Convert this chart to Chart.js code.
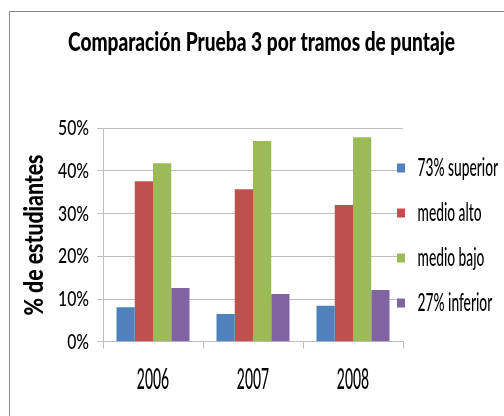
<!DOCTYPE html>
<html>
<head>
<meta charset="utf-8">
<script src="https://cdn.jsdelivr.net/npm/chart.js@4/dist/chart.umd.min.js"></script>
<style>
  html, body { margin: 0; padding: 0; background: #ffffff; }
  #wrap { position: relative; width: 504px; height: 416px; }
</style>
</head>
<body>
<div id="wrap"><canvas id="c"></canvas></div>
<script>
// ---- data ----
const chartTitle = 'Comparación Prueba 3 por tramos de puntaje';
const yAxisTitle = '% de estudiantes';
const years = ['2006', '2007', '2008'];
const seriesNames = ['73% superior', 'medio alto', 'medio bajo', '27% inferior'];
const superior73 = [8.1, 6.5, 8.4];
const medioAlto = [37.6, 35.7, 32.0];
const medioBajo = [41.8, 47.0, 47.9];
const inferior27 = [12.6, 11.2, 12.1];
const yTickValues = [0, 10, 20, 30, 40, 50];

// ---- styles ----
const seriesColors = ['#4F81BD', '#C0504D', '#9BBB59', '#8064A2'];
const FONT = 'Lato';
const gridColor = '#BEBEBE';

// narrow-text rendering (the reference uses a condensed face); keyed by font size
const textStyles = [
  { weight: '900', size: 27, sample: chartTitle, width: 387 },
  { weight: '900', size: 26, sample: yAxisTitle, width: 161 },
  { weight: '500', size: 22, sample: '50%', width: 31 },
  { weight: '500', size: 28, sample: '2006', width: 32.3 },
  { weight: '500', size: 25, sample: 'medio alto', width: 64 }
];
const squash = {};
(function () {
  const m = document.createElement('canvas').getContext('2d');
  textStyles.forEach(s => {
    m.font = s.weight + ' ' + s.size + 'px ' + FONT;
    const w = m.measureText(s.sample).width;
    squash[s.size] = s.width / w;
  });
})();
function fontKey(f) {
  const m = /(\d+(?:\.\d+)?)px/.exec(f);
  return m ? Math.round(parseFloat(m[1])) : 0;
}

const canvas = document.getElementById('c');
const ctx = canvas.getContext('2d');
const origFill = ctx.fillText.bind(ctx);
ctx.fillText = function (t, x, y, mw) {
  const sx = squash[fontKey(this.font)];
  if (!sx) { return mw === undefined ? origFill(t, x, y) : origFill(t, x, y, mw); }
  this.save();
  this.translate(x, y);
  this.scale(sx, 1);
  if (mw === undefined) origFill(t, 0, 0); else origFill(t, 0, 0, mw / sx);
  this.restore();
};

const frame = {
  id: 'frame',
  beforeDraw(chart) {
    const c = chart.ctx;
    c.save();
    c.strokeStyle = '#8A8A8A';
    c.lineWidth = 1;
    c.strokeRect(9.5, 11.5, 700, 700);
    c.restore();
    const lg = chart.legend;
    if (lg) { lg.left = 377; lg.right = 504; lg.top = 135.5; lg.bottom = 416; }
  }
};

const seriesData = [superior73, medioAlto, medioBajo, inferior27];

new Chart(ctx, {
  type: 'bar',
  data: {
    labels: years,
    datasets: seriesNames.map((n, i) => ({
      label: n,
      data: seriesData[i],
      backgroundColor: seriesColors[i],
      borderWidth: 0,
      categoryPercentage: 0.73,
      barPercentage: 1.0
    }))
  },
  options: {
    responsive: true,
    maintainAspectRatio: false,
    animation: false,
    layout: { padding: { left: 19, right: 0, top: 0, bottom: 0 } },
    plugins: {
      tooltip: { enabled: false },
      title: {
        display: true,
        text: chartTitle,
        color: '#000',
        font: { family: FONT, size: 27, weight: '900', lineHeight: 1.2 },
        padding: { top: 26.3, bottom: 69.6 }
      },
      legend: {
        position: 'right',
        align: 'start',
        maxWidth: 101,
        labels: {
          color: '#000',
          font: { family: FONT, size: 25, weight: '500' },
          boxWidth: 8,
          boxHeight: 9,
          padding: 20
        }
      }
    },
    scales: {
      x: {
        grid: { display: true, drawOnChartArea: false, drawTicks: true, tickLength: 7, color: gridColor, offset: true },
        border: { display: true, color: gridColor, width: 1 },
        ticks: { color: '#000', font: { family: FONT, size: 28, weight: '500' }, padding: 14, maxRotation: 0 },
        afterFit(s) { s.height = 74.3; }
      },
      y: {
        min: yTickValues[0],
        max: yTickValues[yTickValues.length - 1],
        afterBuildTicks(s) { s.ticks = yTickValues.map(v => ({ value: v })); },
        grid: { color: gridColor, lineWidth: 1, tickLength: 6, drawTicks: true },
        border: { display: true, color: gridColor, width: 1 },
        ticks: {
          color: '#000',
          font: { family: FONT, size: 22, weight: '500' },
          padding: 8,
          callback: v => v + '%'
        },
        title: {
          display: true,
          text: yAxisTitle,
          color: '#000',
          font: { family: FONT, size: 26, weight: '900', lineHeight: 1.2 },
          padding: { top: 0, bottom: 0 }
        },
        afterFit(s) { s.width = 84; }
      }
    }
  },
  plugins: [frame]
});
</script>
</body>
</html>
